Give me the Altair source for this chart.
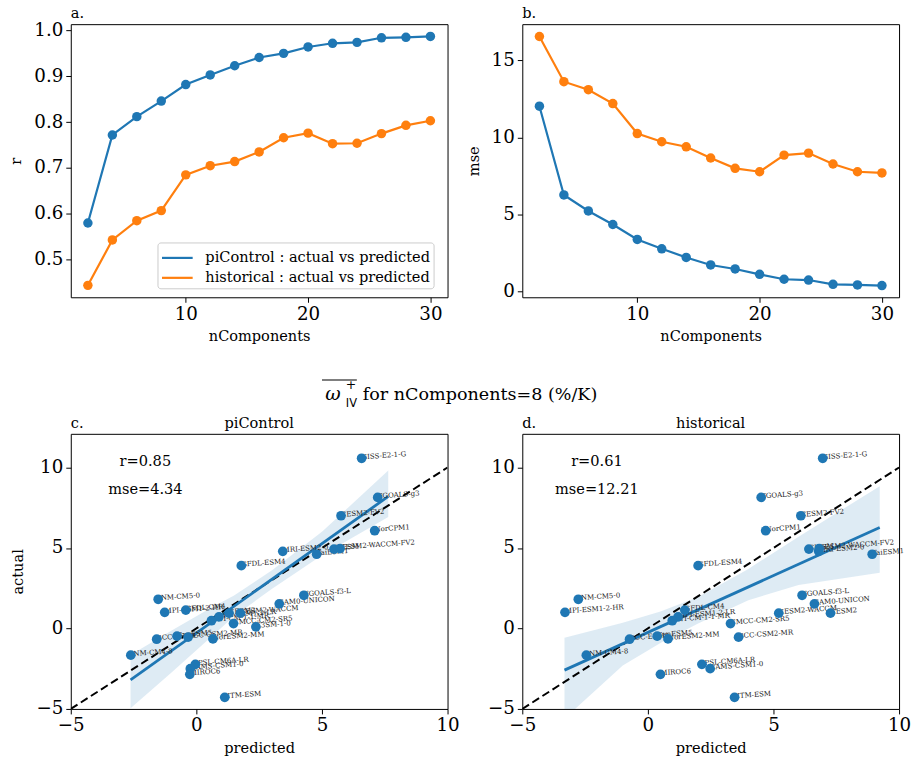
import altair as alt
import pandas as pd

FONT = "DejaVu Serif"
BLUE = "#1f77b4"
ORANGE = "#ff7f0e"
PI_LABEL = "piControl : actual vs predicted"
HIST_LABEL = "historical : actual vs predicted"

# ---------------- data ----------------
n_components = [2, 4, 6, 8, 10, 12, 14, 16, 18, 20, 22, 24, 26, 28, 30]
r_picontrol = [0.580, 0.772, 0.812, 0.846, 0.882, 0.903, 0.923, 0.941, 0.950, 0.964, 0.972, 0.974, 0.984, 0.985, 0.987]
r_historical = [0.444, 0.543, 0.585, 0.607, 0.685, 0.705, 0.714, 0.735, 0.766, 0.776, 0.753, 0.754, 0.775, 0.793, 0.803]
mse_picontrol = [12.03, 6.26, 5.22, 4.34, 3.37, 2.76, 2.20, 1.71, 1.45, 1.10, 0.78, 0.73, 0.45, 0.41, 0.37]
mse_historical = [16.56, 13.62, 13.10, 12.20, 10.25, 9.72, 9.39, 8.66, 7.99, 7.77, 8.85, 8.98, 8.27, 7.77, 7.69]

models = ["GISS-E2-1-G", "FGOALS-g3", "CESM2-FV2", "NorCPM1", "MRI-ESM2-0", "TaiESM1", "CIESM",
          "CESM2-WACCM-FV2", "GFDL-ESM4", "INM-CM5-0", "FGOALS-f3-L", "SAM0-UNICON", "MPI-ESM1-2-HR",
          "GFDL-CM4", "CESM2-WACCM", "CESM2", "MPI-ESM1-2-LR", "AWI-CM-1-1-MR", "CMCC-CM2-SR5",
          "E3SM-1-0", "BCC-CSM2-MR", "BCC-ESM1", "CanESM5", "NorESM2-MM", "INM-CM4-8", "IPSL-CM6A-LR",
          "CAMS-CSM1-0", "MIROC6", "IITM-ESM"]
actual = [10.57, 8.14, 7.00, 6.07, 4.79, 4.61, 4.93, 4.96, 3.90, 1.81, 2.06, 1.53, 1.00,
          1.14, 0.95, 0.95, 0.72, 0.48, 0.30, 0.10, -0.54, -0.67, -0.48, -0.65, -1.66, -2.23,
          -2.50, -2.85, -4.28]
pred_picontrol = [6.58, 7.22, 5.76, 7.10, 3.44, 4.79, 5.48, 5.72, 1.79, -1.52, 4.28, 3.30, -1.26,
                  -0.42, 1.75, 1.30, 0.90, 0.60, 1.48, 2.37, -0.33, -1.58, -0.77, 0.66, -2.61, -0.04,
                  -0.24, -0.26, 1.13]
# E3SM-1-0 is not shown in the historical panel
pred_historical = [6.96, 4.51, 6.09, 4.69, 6.80, 8.93, 6.41, 6.82, 2.00, -2.77, 6.14, 6.63, -3.30,
                   1.47, 5.21, 7.27, 1.20, 0.97, 3.29, None, 3.61, -0.73, 0.37, 0.80, -2.45, 2.15,
                   2.48, 0.50, 3.45]

# regression fits and confidence bands as drawn in the reference
reg_pi_x = [-2.62, 7.64]
reg_pi_y = [-3.20, 8.20]
band_pi_x = [-2.62, -1.0, 0.5, 1.5, 3.0, 5.0, 7.64]
band_pi_hi = [-1.65, -0.15, 1.20, 2.05, 3.60, 6.00, 9.81]
band_pi_lo = [-4.96, -2.75, -0.65, 0.75, 2.45, 4.55, 6.92]

reg_hist_x = [-3.32, 9.23]
reg_hist_y = [-2.59, 6.27]
band_hist_x = [-3.32, -1.0, 0.5, 2.0, 4.0, 6.0, 9.23]
band_hist_hi = [-0.58, 0.35, 1.05, 1.95, 3.70, 5.70, 8.84]
band_hist_lo = [-5.6, -2.30, -0.90, 0.30, 1.75, 2.70, 3.46]

diag = [-5, 10]

stats_pi = ["r=0.85", "mse=4.34"]
stats_hist = ["r=0.61", "mse=12.21"]

W, H = 378, 274
H2 = 276


def letter_mark(txt, x=0, y=-6, align="left", size=14.6):
    return alt.Chart(pd.DataFrame({"t": [txt]})).mark_text(
        align=align, baseline="alphabetic", font=FONT, fontSize=size, color="black"
    ).encode(text="t:N", x=alt.value(x), y=alt.value(y))


def metric_panel(pi_vals, hist_vals, ytitle, ydom, yticks, yfmt, letter, show_legend):
    df = pd.DataFrame({
        "n": n_components + n_components,
        "v": pi_vals + hist_vals,
        "s": [PI_LABEL] * len(pi_vals) + [HIST_LABEL] * len(hist_vals),
    })
    xenc = alt.X("n:Q", scale=alt.Scale(domain=[0.6, 31.4], nice=False, zero=False),
                 axis=alt.Axis(values=[10, 20, 30], format="d", title="nComponents", titlePadding=6))
    yenc = alt.Y("v:Q", scale=alt.Scale(domain=ydom, nice=False, zero=False),
                 axis=alt.Axis(values=yticks, format=yfmt, title=ytitle, titlePadding=10))
    cscale = alt.Scale(domain=[PI_LABEL, HIST_LABEL], range=[BLUE, ORANGE])
    if show_legend:
        leg = alt.Legend(title=None, orient="none", legendX=87, legendY=219,
                         symbolType="M-1,0L1.8,0", symbolSize=484, symbolStrokeWidth=2.2,
                         labelFont=FONT, labelFontSize=14.6, labelColor="black",
                         strokeColor="#cccccc", fillColor="white", padding=3,
                         cornerRadius=3, rowPadding=0, labelOffset=20, labelLimit=400)
    else:
        leg = None
    line = alt.Chart(df).mark_line(strokeWidth=2.2).encode(
        x=xenc, y=yenc, color=alt.Color("s:N", scale=cscale, legend=leg, sort=[PI_LABEL, HIST_LABEL]))
    pts = alt.Chart(df).mark_circle(size=90, opacity=1).encode(
        x=xenc, y=yenc, color=alt.Color("s:N", scale=cscale, legend=None))
    return alt.layer(line, pts, letter_mark(letter)).properties(width=W, height=H)


def scatter_panel(pred, reg_x, reg_y, bx, bhi, blo, stats, title, letter, ytitle, extra=None):
    pts_df = pd.DataFrame({"model": models, "pred": pred, "actual": actual})
    xsc = alt.Scale(domain=[-5, 10], nice=False, zero=False)
    ysc = alt.Scale(domain=[-5, 12.09], nice=False, zero=False)
    xax = alt.Axis(values=[-5, 0, 5, 10], format="d", title="predicted", titlePadding=6)
    yax = alt.Axis(values=[-5, 0, 5, 10], format="d", title=ytitle, titlePadding=10)

    band = alt.Chart(pd.DataFrame({"x": bx, "hi": bhi, "lo": blo})).mark_area(
        color=BLUE, opacity=0.15, clip=True
    ).encode(x=alt.X("x:Q", scale=xsc, axis=xax), y=alt.Y("lo:Q", scale=ysc, axis=yax), y2="hi:Q")

    diag_line = alt.Chart(pd.DataFrame({"x": diag, "y": diag})).mark_line(
        color="black", strokeDash=[8, 4], strokeWidth=2, clip=True
    ).encode(x=alt.X("x:Q", scale=xsc), y=alt.Y("y:Q", scale=ysc))

    reg = alt.Chart(pd.DataFrame({"x": reg_x, "y": reg_y})).mark_line(
        color=BLUE, strokeWidth=2.8, clip=True
    ).encode(x=alt.X("x:Q", scale=xsc), y=alt.Y("y:Q", scale=ysc))

    labels = alt.Chart(pts_df).mark_text(
        align="left", baseline="middle", font=FONT, fontSize=7, color="#222222", angle=356, dy=-1
    ).encode(x=alt.X("pred:Q", scale=xsc), y=alt.Y("actual:Q", scale=ysc), text="model:N")

    pts = alt.Chart(pts_df).mark_circle(size=95, opacity=1, color=BLUE).encode(
        x=alt.X("pred:Q", scale=xsc), y=alt.Y("actual:Q", scale=ysc))

    st = alt.Chart(pd.DataFrame({"t": stats, "x": [-2.03, -2.03], "y": [10.33, 8.62]})).mark_text(
        align="center", baseline="middle", font=FONT, fontSize=14.6, color="black"
    ).encode(x=alt.X("x:Q", scale=xsc), y=alt.Y("y:Q", scale=ysc), text="t:N")

    layers = [band, diag_line, reg, labels, pts, st,
              letter_mark(letter), letter_mark(title, x=W / 2, align="center")]
    if extra:
        layers += extra
    return alt.layer(*layers).properties(width=W, height=H2)


# super title pieces (drawn relative to panel c)
sup_over = alt.Chart(pd.DataFrame({"a": [0]})).mark_rule(color="black", strokeWidth=1.2).encode(
    x=alt.value(252), x2=alt.value(287), y=alt.value(-54))
sup_omega = alt.Chart(pd.DataFrame({"t": ["ω"]})).mark_text(
    align="center", baseline="alphabetic", font=FONT, fontSize=19, fontStyle="italic", color="black"
).encode(text="t:N", x=alt.value(263), y=alt.value(-34))
sup_plus = alt.Chart(pd.DataFrame({"t": ["+"]})).mark_text(
    align="left", baseline="alphabetic", font="DejaVu Sans", fontSize=12.5, color="black"
).encode(text="t:N", x=alt.value(276), y=alt.value(-45))
sup_iv = alt.Chart(pd.DataFrame({"t": ["IV"]})).mark_text(
    align="left", baseline="alphabetic", font="DejaVu Sans", fontSize=11.5, color="black"
).encode(text="t:N", x=alt.value(276), y=alt.value(-27))
sup_rest = alt.Chart(pd.DataFrame({"t": ["for nComponents=8 (%/K)"]})).mark_text(
    align="left", baseline="alphabetic", font=FONT, fontSize=17.6, color="black"
).encode(text="t:N", x=alt.value(293), y=alt.value(-34))

panel_a = metric_panel(r_picontrol, r_historical, "r", [0.418, 1.0137],
                       [0.5, 0.6, 0.7, 0.8, 0.9, 1.0], ".1f", "a.", True)
panel_b = metric_panel(mse_picontrol, mse_historical, "mse", [-0.39, 17.36],
                       [0, 5, 10, 15], "d", "b.", False)
panel_c = scatter_panel(pred_picontrol, reg_pi_x, reg_pi_y, band_pi_x, band_pi_hi, band_pi_lo,
                        stats_pi, "piControl", "c.", "actual",
                        extra=[sup_over, sup_omega, sup_plus, sup_iv, sup_rest])
panel_d = scatter_panel(pred_historical, reg_hist_x, reg_hist_y, band_hist_x, band_hist_hi, band_hist_lo,
                        stats_hist, "historical", "d.", "")

chart = alt.concat(
    panel_a, panel_b, panel_c, panel_d, columns=2,
    spacing={"row": 137, "column": 75}, bounds="flush"
).resolve_scale(color="independent").properties(
    padding={"left": 8, "top": 4, "right": 5, "bottom": 5}
).configure(background="white").configure_view(
    stroke="black", strokeWidth=1
).configure_axis(
    labelFont=FONT, labelFontSize=18.3, labelColor="black", titleFont=FONT, titleFontSize=14.6,
    titleFontWeight="normal", titleColor="black", tickColor="black", tickSize=5, tickWidth=1,
    labelPadding=3, domain=False, grid=False, labelFlush=False, labelOverlap=False
)

chart.save("out.html", embed_options={"renderer": "svg", "actions": False})
